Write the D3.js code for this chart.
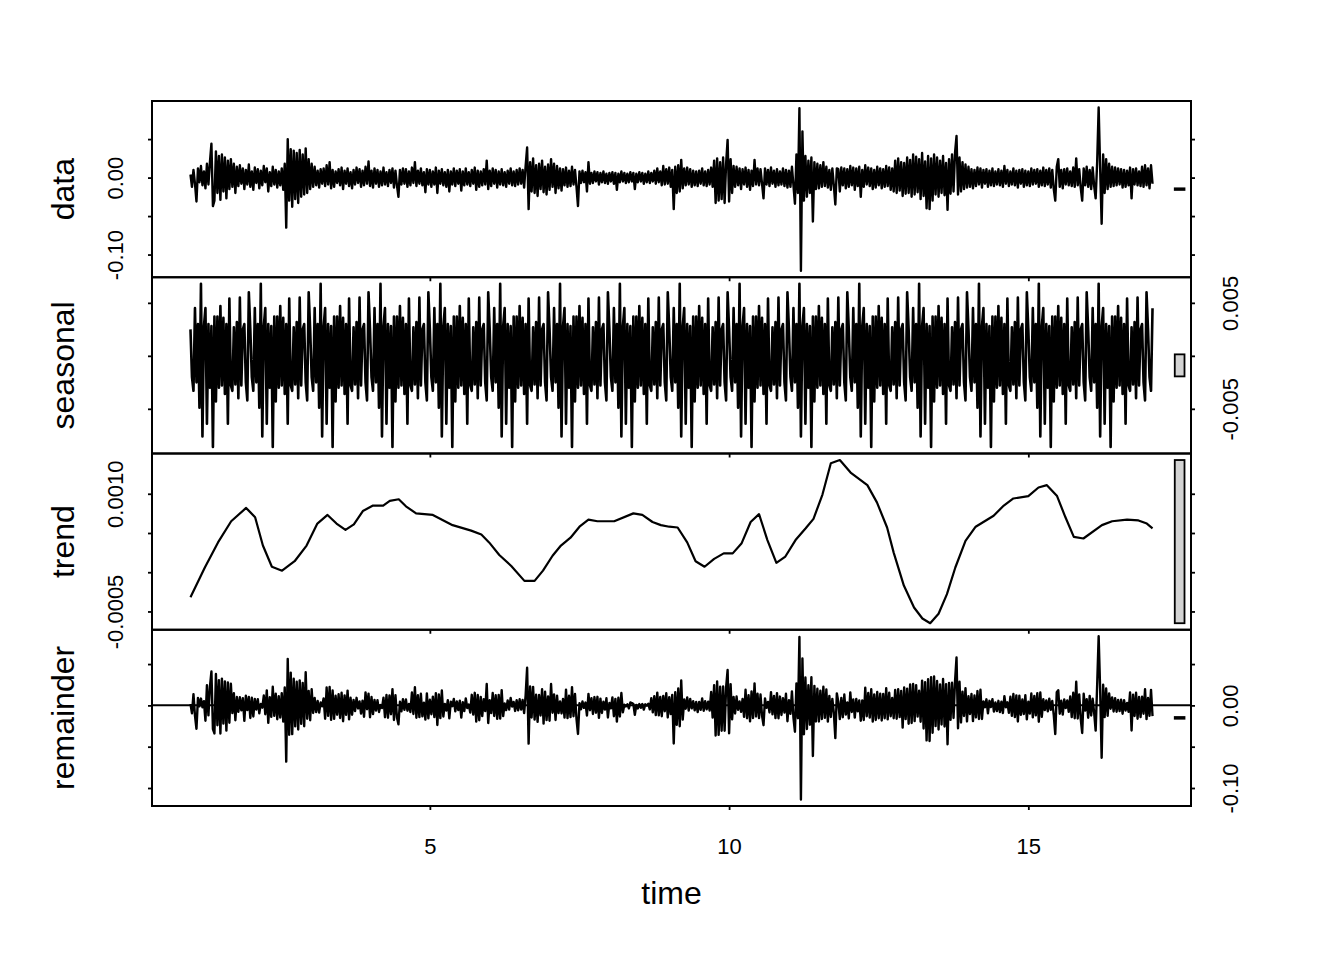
<!DOCTYPE html>
<html>
<head>
<meta charset="utf-8">
<script src="https://cdn.jsdelivr.net/npm/d3@7"></script>
<style>
  body { margin: 0; background: #fff; }
  text { font-family: "Liberation Sans", Arial, sans-serif; fill: #000; }
</style>
</head>
<body>
<script>
var width = 1344,
    height = 960;

// series sampled 40 times per time unit, starting at time 1
var freq = 40,
    start = 1;

var dataValues = [
  .004,-.012,.010,-.008,-.031,.012,-.006,.015,-.010,.008,-.014,.018,-.009,.020,.044,-.037,-.030,.034,-.020,.028,
  -.029,.030,-.018,.026,-.027,.022,-.015,.024,-.012,.018,-.020,.014,-.011,.016,-.008,.012,-.015,.010,-.009,.017,
  -.012,.008,-.016,.013,-.007,.011,-.014,.009,-.010,.015,-.006,.012,-.018,.007,-.011,.014,-.009,.010,-.013,.008,
  -.010,.012,-.016,.018,-.065,.050,-.030,.037,-.038,.035,-.028,.032,-.033,.036,-.025,.030,-.022,.038,-.020,.024,
  -.015,.018,-.012,.014,-.010,.009,-.013,.011,-.008,.012,-.011,.016,-.009,.020,-.014,.010,-.012,.008,-.007,.011,
  -.010,.013,-.015,.009,-.008,.012,-.011,.007,-.014,.010,-.009,.013,-.007,.011,-.012,.009,-.010,.014,-.008,.021,
  -.011,.009,-.013,.012,-.008,.010,-.012,.008,-.010,.013,-.009,.007,-.011,.010,-.007,.012,-.013,.009,-.010,-.025,
  .010,-.009,.012,-.008,.011,-.012,.008,-.010,.013,-.007,.020,-.011,.009,-.008,.012,-.010,.007,-.019,.011,-.009,
  .010,-.012,.008,-.009,.013,-.020,.009,-.008,.011,-.010,.007,-.012,.010,-.018,.008,-.009,.012,-.011,.009,-.008,
  .011,-.017,.008,-.010,.012,-.009,.007,-.011,.010,-.008,.013,-.016,.009,-.012,.008,-.010,.011,-.009,.022,-.015,
  .009,-.011,.012,-.008,.010,-.013,.008,-.009,.011,-.010,.007,-.012,.009,-.008,.012,-.010,.008,-.011,.010,-.009,
  .012,-.008,.010,-.013,.015,.039,-.041,.020,-.018,.025,-.020,.016,-.024,.018,-.015,.022,-.019,.014,-.022,.017,
  -.016,.024,-.012,.018,-.020,.015,-.014,.012,-.017,.011,-.010,.013,-.012,.009,-.011,.014,-.009,.010,-.012,-.037,
  .008,-.007,.009,-.006,.007,-.018,.020,-.008,.006,-.007,.008,-.005,.007,-.009,.006,-.006,.008,-.007,.005,-.008,
  .006,-.005,.007,-.008,.006,-.016,.005,-.006,.008,-.005,.006,-.007,.005,-.006,.007,-.005,.006,-.015,.005,-.006,
  .007,-.005,.006,-.008,.005,-.006,.008,-.007,.006,-.005,.009,-.008,.012,-.006,.008,-.010,.015,-.009,.011,-.008,
  .013,-.012,.010,-.041,.014,-.020,.016,-.018,.023,-.014,.012,-.010,.013,-.009,.011,-.012,.009,-.010,.008,-.011,
  .009,-.008,.012,-.010,.008,-.011,.010,-.009,.013,-.012,.022,-.033,.025,-.030,.020,-.028,.026,-.033,.018,.049,
  -.031,.024,-.020,.015,-.012,.014,-.010,.012,-.015,.011,-.009,.013,-.012,.010,-.016,.009,-.011,.023,-.009,.012,
  -.010,.011,-.008,-.027,.012,-.009,.010,-.011,.013,-.008,.009,-.012,.011,-.010,.008,-.009,.012,-.011,.010,-.013,
  .009,-.012,.014,-.010,-.034,.030,-.020,.090,-.121,.060,-.030,.028,-.025,.022,-.020,.026,-.057,.020,-.015,.018,
  -.014,.016,-.012,.020,-.011,.014,-.013,.010,-.016,.012,-.010,-.035,.012,.011,-.018,.013,-.010,.012,-.014,.011,
  -.012,.015,-.010,.013,-.016,.012,-.011,.014,-.025,.010,-.012,.016,-.009,.013,-.011,.012,-.015,.010,-.013,.014,
  -.010,.012,-.014,.011,-.012,.015,-.011,.013,-.016,.012,-.018,.022,-.020,.025,-.017,.020,-.024,.019,-.021,.026,
  -.020,.023,-.025,.030,-.022,.027,-.019,.024,-.028,.032,-.024,.021,-.040,.028,-.041,.025,-.030,.030,-.022,.026,
  -.025,.022,-.020,.028,-.023,.019,-.042,.024,-.021,.030,-.018,.032,.054,-.022,.026,-.018,.020,-.015,.017,-.013,
  .014,-.012,.011,-.014,.010,-.011,.013,-.009,.012,-.013,.010,-.008,.011,-.012,.009,-.010,.012,-.011,.008,-.009,
  .011,-.010,.009,-.012,.015,-.008,.010,-.011,.008,-.009,.012,-.010,.009,-.013,.010,-.008,.011,-.012,.009,-.010,
  .008,-.011,.012,-.009,.010,-.008,.011,-.012,.009,-.010,.013,-.011,.010,-.009,.012,-.013,.010,-.015,-.030,.014,
  .024,-.012,.010,-.014,.011,-.009,.012,-.010,.008,-.011,.013,-.012,.025,-.010,.011,-.013,-.030,.012,-.010,.014,
  -.012,.010,-.015,.013,-.011,-.027,.020,.091,.012,-.060,.030,-.020,.024,-.015,.018,-.012,.014,-.011,.013,-.010,
  .012,-.009,.011,-.013,.010,-.012,.009,-.010,.013,-.027,.011,-.009,.012,-.010,.008,-.011,.014,-.012,.016,-.010,
  .012,-.014,.016,-.008
];

// one cycle of the seasonal component (repeats every time unit)
var seasonalCycle = [
  .0025,-.0020,-.0033,.0045,-.0025,.0030,-.0049,.0068,-.0076,.0028,
  .0045,-.0064,.0030,-.0030,.0028,-.0086,.0037,-.0043,.0037,-.0030,
  .0047,-.0028,.0036,-.0036,.0030,-.0064,.0054,-.0028,-.0033,.0027,
  -.0027,.0032,-.0040,.0055,-.0028,.0025,.0030,-.0025,-.0042,.0060
];

// trend knots
var trendTime = [1.00,1.24,1.46,1.68,1.93,2.08,2.21,2.36,2.53,2.74,2.94,3.12,3.29,3.44,3.59,3.73,3.88,4.05,4.22,4.33,
  4.48,4.60,4.77,5.05,5.38,5.69,5.86,5.99,6.16,6.36,6.58,6.75,6.89,7.05,7.19,7.35,7.50,7.65,7.80,8.08,
  8.40,8.55,8.72,8.86,9.00,9.14,9.30,9.44,9.59,9.75,9.91,10.06,10.21,10.36,10.50,10.64,10.79,10.94,11.11,11.28,
  11.41,11.56,11.70,11.85,12.03,12.31,12.47,12.64,12.75,12.92,13.09,13.23,13.36,13.50,13.64,13.78,13.95,14.12,14.42,14.59,
  14.75,15.00,15.17,15.31,15.48,15.62,15.76,15.92,16.23,16.40,16.65,16.84,16.98,17.075];
var trendValue = [-0.00032,0.00006,0.00038,0.00065,0.00082,0.00070,0.00034,0.00007,0.00002,0.00014,
  0.00034,0.00062,0.00073,0.00062,0.00054,0.00061,0.00078,0.00085,0.00085,0.00091,
  0.00093,0.00084,0.00075,0.00073,0.00060,0.00053,0.00048,0.00038,0.00022,0.00008,
  -0.00011,-0.00011,0.00002,0.00021,0.00034,0.00044,0.00058,0.00067,0.00065,0.00065,
  0.00075,0.00073,0.00064,0.00060,0.00058,0.00057,0.00038,0.00014,0.00007,0.00017,
  0.00024,0.00024,0.00037,0.00064,0.00074,0.00041,0.00012,0.00020,0.00041,0.00056,
  0.00068,0.00099,0.00139,0.00143,0.00127,0.00111,0.00089,0.00057,0.00025,-0.00017,
  -0.00045,-0.00059,-0.00065,-0.00053,-0.00028,0.00006,0.00040,0.00058,0.00072,0.00085,
  0.00094,0.00097,0.00108,0.00111,0.00097,0.00070,0.00045,0.00043,0.00060,0.00065,
  0.00067,0.00066,0.00062,0.00056];

var timeTicks = [5, 10, 15];
var dataTicks = [-0.1, -0.05, 0, 0.05],          dataLabels = [-0.1, 0];
var seasonalTicks = [-0.005, 0, 0.005],          seasonalLabels = [-0.005, 0.005];
var trendTicks = [-0.0005, 0, 0.0005, 0.001],    trendLabels = [-0.0005, 0.001];
var remainderTicks = [-0.1, -0.05, 0, 0.05],     remainderLabels = [-0.1, 0];

// decomposition: remainder = data - seasonal - trend
var time = d3.range(dataValues.length).map(function(i) { return start + i / freq; });
var seasonal = time.map(function(t, i) { return seasonalCycle[i % freq]; });
var trendAt = d3.scaleLinear().domain(trendTime).range(trendValue);
var remainder = dataValues.map(function(v, i) { return v - seasonal[i] - trendAt(time[i]); });

var panels = [
  {name: "data",      values: dataValues, times: time,      ticks: dataTicks,      labels: dataLabels,      digits: 2, lw: 2.4},
  {name: "seasonal",  values: seasonal,   times: time,      ticks: seasonalTicks,  labels: seasonalLabels,  digits: 3, lw: 2.6},
  {name: "trend",     values: trendValue, times: trendTime, ticks: trendTicks,     labels: trendLabels,     digits: 4, lw: 2.2},
  {name: "remainder", values: remainder,  times: time,      ticks: remainderTicks, labels: remainderLabels, digits: 2, lw: 2.4}
];

var plotLeft = 152, plotRight = 1191, plotTop = 101, plotBottom = 806;
var panelH = (plotBottom - plotTop) / panels.length;
var tickFont = 22;

function padded(e) { var d = (e[1] - e[0]) * 0.04; return [e[0] - d, e[1] + d]; }

var svg = d3.select("body").append("svg")
    .attr("width", width)
    .attr("height", height);

var x = d3.scaleLinear()
    .domain(padded(d3.extent(time)))
    .range([plotLeft, plotRight]);

// range bars all share the smallest panel range
var minRange = d3.min(panels, function(p) { var e = d3.extent(p.values); return e[1] - e[0]; });
var dx = (plotRight - plotLeft) / 64;

function styleTicks(axisG, textShift) {
  axisG.select(".domain").remove();
  axisG.selectAll("line").attr("stroke", "#000").attr("stroke-width", 1.8);
  axisG.selectAll("text")
      .attr("x", 0).attr("y", 0).attr("dy", 0)
      .attr("text-anchor", "middle")
      .attr("font-size", tickFont)
      .attr("font-family", '"Liberation Sans", Arial, sans-serif')
      .attr("fill", "#000")
      .attr("transform", "translate(" + textShift + ",0) rotate(-90)");
}

panels.forEach(function(p, i) {
  var y0 = plotTop + i * panelH,
      y1 = y0 + panelH,
      ext = d3.extent(p.values);

  var y = d3.scaleLinear().domain(padded(ext)).range([y1, y0]);
  var g = svg.append("g");

  if (p.name == "remainder") {
    g.append("line")
        .attr("x1", plotLeft).attr("x2", plotRight)
        .attr("y1", y(0)).attr("y2", y(0))
        .attr("stroke", "#000").attr("stroke-width", 2);
  }

  var line = d3.line()
      .x(function(d, k) { return x(p.times[k]); })
      .y(function(d) { return y(d); });

  g.append("path")
      .datum(p.values)
      .attr("d", line)
      .attr("fill", "none")
      .attr("stroke", "#000")
      .attr("stroke-width", p.lw)
      .attr("stroke-linejoin", "round");

  var mid = (ext[0] + ext[1]) / 2;
  g.append("rect")
      .attr("x", plotRight - dx)
      .attr("width", 0.6 * dx)
      .attr("y", y(mid + minRange / 2))
      .attr("height", y(mid - minRange / 2) - y(mid + minRange / 2))
      .attr("fill", "#d3d3d3")
      .attr("stroke", "#000")
      .attr("stroke-width", 1.8);

  g.append("rect")
      .attr("x", plotLeft).attr("y", y0)
      .attr("width", plotRight - plotLeft).attr("height", panelH)
      .attr("fill", "none")
      .attr("stroke", "#000")
      .attr("stroke-width", 2);

  var fmt = function(v) {
    return p.labels.some(function(l) { return Math.abs(l - v) < 1e-12; }) ? v.toFixed(p.digits) : "";
  };
  var none = function() { return ""; };

  var aL = g.append("g")
      .attr("transform", "translate(" + plotLeft + ",0)")
      .call(d3.axisLeft(y).tickValues(p.ticks).tickSize(4).tickSizeOuter(0).tickFormat(i % 2 == 0 ? fmt : none));
  styleTicks(aL, -29);

  var aR = g.append("g")
      .attr("transform", "translate(" + plotRight + ",0)")
      .call(d3.axisRight(y).tickValues(p.ticks).tickSize(4).tickSizeOuter(0).tickFormat(i % 2 == 1 ? fmt : none));
  styleTicks(aR, 47);

  var last = i == panels.length - 1;
  var aB = g.append("g")
      .attr("transform", "translate(0," + y1 + ")")
      .call(d3.axisBottom(x).tickValues(timeTicks).tickSize(4).tickSizeOuter(0).tickFormat(last ? d3.format("d") : none));
  aB.select(".domain").remove();
  aB.selectAll("line").attr("stroke", "#000").attr("stroke-width", 1.8);
  aB.selectAll("text")
      .attr("y", 854 - y1).attr("dy", 0)
      .attr("font-size", tickFont)
      .attr("font-family", '"Liberation Sans", Arial, sans-serif')
      .attr("fill", "#000");

  svg.append("text")
      .attr("transform", "translate(73.5," + ((y0 + y1) / 2) + ") rotate(-90)")
      .attr("text-anchor", "middle")
      .attr("font-size", 32)
      .text(p.name);
});

svg.append("text")
    .attr("x", (plotLeft + plotRight) / 2)
    .attr("y", 904)
    .attr("text-anchor", "middle")
    .attr("font-size", 32)
    .text("time");
</script>
</body>
</html>
